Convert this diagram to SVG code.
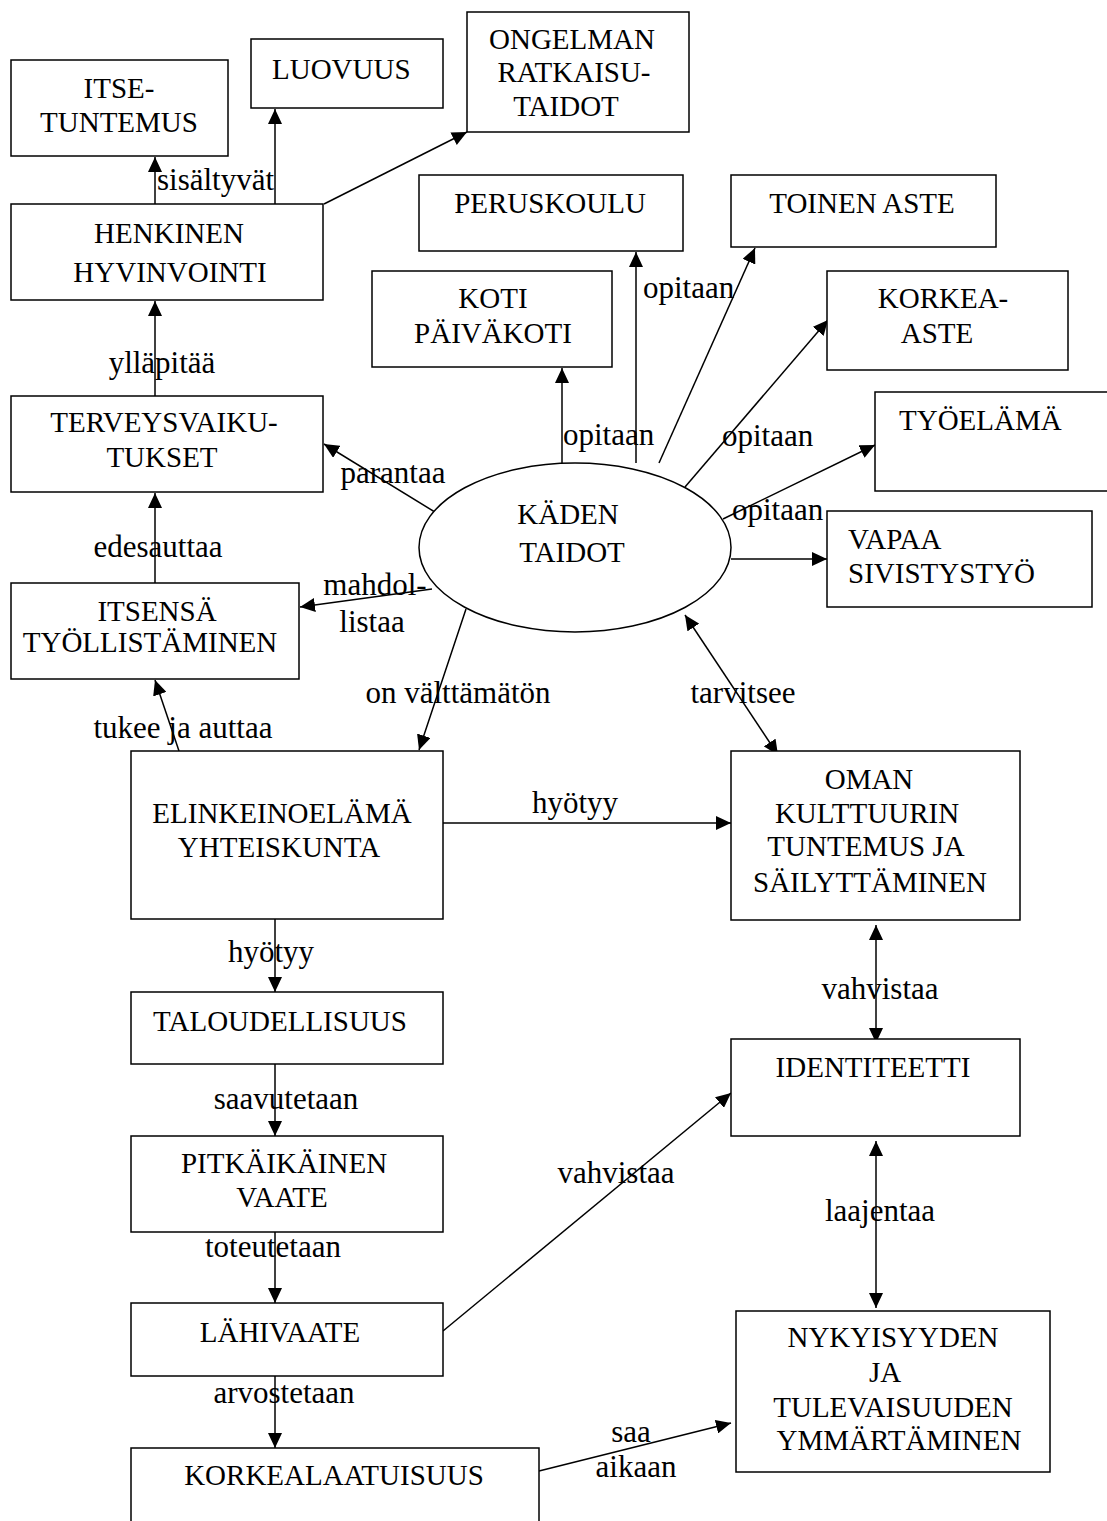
<svg xmlns="http://www.w3.org/2000/svg" width="1107" height="1521" viewBox="0 0 1107 1521">
<style>
  .box { fill:#fff; stroke:#000; stroke-width:1.5; }
  .t { font-family:"Liberation Serif","Times New Roman",serif; font-size:29px; fill:#000; }
  .m { text-anchor:middle; }
  .l { font-family:"Liberation Serif","Times New Roman",serif; font-size:31px; fill:#000; }
  .c { fill:none; stroke:#000; stroke-width:1.5; }
  .a { marker-end:url(#ah); }
  .d { marker-start:url(#ah); marker-end:url(#ah); }
</style>
<defs>
  <marker id="ah" markerUnits="userSpaceOnUse" markerWidth="16" markerHeight="14" refX="15" refY="7" orient="auto-start-reverse" viewBox="0 0 16 14">
    <path d="M0,0 L15,7 L0,14 z" fill="#000"/>
  </marker>
</defs>
<rect width="1107" height="1521" fill="#fff"/>

<g id="connectors">
  <line class="c a" x1="155" y1="204" x2="155" y2="157"/>
  <line class="c a" x1="275" y1="204" x2="275" y2="109"/>
  <line class="c a" x1="324" y1="204" x2="467" y2="132"/>
  <line class="c a" x1="155" y1="396" x2="155" y2="301"/>
  <line class="c a" x1="155" y1="583" x2="155" y2="493"/>
  <line class="c a" x1="443" y1="517" x2="324" y2="444"/>
  <line class="c a" x1="432" y1="589" x2="300" y2="607"/>
  <line class="c a" x1="179" y1="751" x2="155" y2="680"/>
  <line class="c a" x1="562" y1="463" x2="562" y2="368"/>
  <line class="c a" x1="636" y1="463" x2="636" y2="252"/>
  <line class="c a" x1="659" y1="463" x2="755" y2="248"/>
  <line class="c a" x1="685" y1="487" x2="828" y2="320"/>
  <line class="c a" x1="723" y1="519" x2="875" y2="445"/>
  <line class="c a" x1="731" y1="559" x2="827" y2="559"/>
  <line class="c a" x1="466" y1="609" x2="419" y2="750"/>
  <line class="c d" x1="685" y1="615" x2="778" y2="755"/>
  <line class="c a" x1="443" y1="823" x2="731" y2="823"/>
  <line class="c a" x1="275" y1="919" x2="275" y2="992"/>
  <line class="c a" x1="275" y1="1064" x2="275" y2="1136"/>
  <line class="c a" x1="275" y1="1232" x2="275" y2="1303"/>
  <line class="c a" x1="275" y1="1376" x2="275" y2="1448"/>
  <line class="c a" x1="443" y1="1331" x2="731" y2="1093"/>
  <line class="c d" x1="876" y1="925" x2="876" y2="1043"/>
  <line class="c d" x1="876" y1="1141" x2="876" y2="1308"/>
  <line class="c a" x1="539" y1="1471" x2="731" y2="1423"/>

  <g id="labels">
    <text class="l" x="157" y="190">sisältyvät</text>
    <text class="l m" x="162" y="373">ylläpitää</text>
    <text class="l m" x="158" y="557">edesauttaa</text>
    <text class="l m" x="393" y="483">parantaa</text>
    <text class="l m" x="375" y="595">mahdol-</text>
    <text class="l m" x="372" y="632">listaa</text>
    <text class="l m" x="183" y="738">tukee ja auttaa</text>
    <text class="l" x="563" y="445">opitaan</text>
    <text class="l" x="643" y="298">opitaan</text>
    <text class="l" x="722" y="446">opitaan</text>
    <text class="l" x="732" y="520">opitaan</text>
    <text class="l m" x="458" y="703">on välttämätön</text>
    <text class="l m" x="743" y="703">tarvitsee</text>
    <text class="l m" x="575" y="813">hyötyy</text>
    <text class="l m" x="271" y="962">hyötyy</text>
    <text class="l m" x="286" y="1109">saavutetaan</text>
    <text class="l m" x="273" y="1257">toteutetaan</text>
    <text class="l m" x="284" y="1403">arvostetaan</text>
    <text class="l m" x="616" y="1183">vahvistaa</text>
    <text class="l m" x="880" y="999">vahvistaa</text>
    <text class="l m" x="880" y="1221">laajentaa</text>
    <text class="l m" x="631" y="1442">saa</text>
    <text class="l m" x="636" y="1477">aikaan</text>
  </g>
</g>

<g id="n_itsetuntemus">
  <rect class="box" x="11" y="60" width="217" height="96"/>
  <text class="t m" x="119" y="98">ITSE-</text>
  <text class="t m" x="119" y="132">TUNTEMUS</text>
</g>
<g id="n_luovuus">
  <rect class="box" x="251" y="39" width="192" height="69"/>
  <text class="t" x="272" y="79">LUOVUUS</text>
</g>
<g id="n_ongelman">
  <rect class="box" x="467" y="12" width="222" height="120"/>
  <text class="t m" x="572" y="49">ONGELMAN</text>
  <text class="t m" x="574" y="82">RATKAISU-</text>
  <text class="t m" x="566" y="116">TAIDOT</text>
</g>
<g id="n_henkinen">
  <rect class="box" x="11" y="204" width="312" height="96"/>
  <text class="t m" x="169" y="243">HENKINEN</text>
  <text class="t m" x="170" y="282">HYVINVOINTI</text>
</g>
<g id="n_terveys">
  <rect class="box" x="11" y="396" width="312" height="96"/>
  <text class="t m" x="164" y="432">TERVEYSVAIKU-</text>
  <text class="t m" x="162" y="467">TUKSET</text>
</g>
<g id="n_itsensa">
  <rect class="box" x="11" y="583" width="288" height="96"/>
  <text class="t m" x="157" y="621">ITSENSÄ</text>
  <text class="t m" x="150" y="652">TYÖLLISTÄMINEN</text>
</g>
<g id="n_peruskoulu">
  <rect class="box" x="419" y="175" width="264" height="76"/>
  <text class="t m" x="550" y="213">PERUSKOULU</text>
</g>
<g id="n_koti">
  <rect class="box" x="372" y="271" width="240" height="96"/>
  <text class="t m" x="493" y="308">KOTI</text>
  <text class="t m" x="493" y="343">PÄIVÄKOTI</text>
</g>
<g id="n_toinenaste">
  <rect class="box" x="731" y="175" width="265" height="72"/>
  <text class="t m" x="862" y="213">TOINEN ASTE</text>
</g>
<g id="n_korkeaaste">
  <rect class="box" x="827" y="271" width="241" height="99"/>
  <text class="t m" x="943" y="308">KORKEA-</text>
  <text class="t m" x="937" y="343">ASTE</text>
</g>
<g id="n_tyoelama">
  <rect class="box" x="875" y="392" width="250" height="99"/>
  <text class="t" x="899" y="430">TYÖELÄMÄ</text>
</g>
<g id="n_vapaa">
  <rect class="box" x="827" y="511" width="265" height="96"/>
  <text class="t" x="848" y="549">VAPAA</text>
  <text class="t" x="848" y="583">SIVISTYSTYÖ</text>
</g>
<g id="n_kaden">
  <ellipse class="box" cx="575" cy="547.5" rx="156" ry="84.5"/>
  <text class="t m" x="568" y="524">KÄDEN</text>
  <text class="t m" x="572" y="562">TAIDOT</text>
</g>
<g id="n_elinkeino">
  <rect class="box" x="131" y="751" width="312" height="168"/>
  <text class="t m" x="282" y="823">ELINKEINOELÄMÄ</text>
  <text class="t m" x="279" y="857">YHTEISKUNTA</text>
</g>
<g id="n_oman">
  <rect class="box" x="731" y="751" width="289" height="169"/>
  <text class="t m" x="869" y="789">OMAN</text>
  <text class="t m" x="867" y="823">KULTTUURIN</text>
  <text class="t m" x="866" y="856">TUNTEMUS JA</text>
  <text class="t m" x="870" y="892">SÄILYTTÄMINEN</text>
</g>
<g id="n_taloudellisuus">
  <rect class="box" x="131" y="992" width="312" height="72"/>
  <text class="t m" x="280" y="1031">TALOUDELLISUUS</text>
</g>
<g id="n_pitkaikainen">
  <rect class="box" x="131" y="1136" width="312" height="96"/>
  <text class="t m" x="284" y="1173">PITKÄIKÄINEN</text>
  <text class="t m" x="282" y="1207">VAATE</text>
</g>
<g id="n_lahivaate">
  <rect class="box" x="131" y="1303" width="312" height="73"/>
  <text class="t m" x="280" y="1342">LÄHIVAATE</text>
</g>
<g id="n_korkealaatuisuus">
  <rect class="box" x="131" y="1448" width="408" height="100"/>
  <text class="t m" x="334" y="1485">KORKEALAATUISUUS</text>
</g>
<g id="n_identiteetti">
  <rect class="box" x="731" y="1039" width="289" height="97"/>
  <text class="t m" x="873" y="1077">IDENTITEETTI</text>
</g>
<g id="n_nykyisyys">
  <rect class="box" x="736" y="1311" width="314" height="161"/>
  <text class="t m" x="893" y="1347">NYKYISYYDEN</text>
  <text class="t m" x="885" y="1382">JA</text>
  <text class="t m" x="893" y="1417">TULEVAISUUDEN</text>
  <text class="t m" x="899" y="1450">YMMÄRTÄMINEN</text>
</g>
</svg>
